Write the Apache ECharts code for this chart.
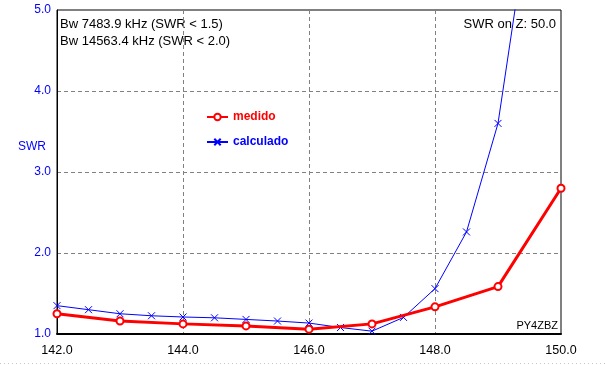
<!DOCTYPE html>
<html>
<head>
<meta charset="utf-8">
<script src="https://cdn.jsdelivr.net/npm/echarts@6/dist/echarts.min.js"></script>
<style>html,body{margin:0;padding:0;background:#fff}#c{width:605px;height:365px}</style>
</head>
<body>
<div id="c"></div>
<script>
var calcFreq = [142.0, 142.5, 143.0, 143.5, 144.0, 144.5, 145.0, 145.5, 146.0, 146.5, 147.0, 147.5, 148.0, 148.5, 149.0, 149.5];
var calcSwr  = [1.35, 1.30, 1.25, 1.225, 1.21, 1.20, 1.18, 1.16, 1.135, 1.08, 1.035, 1.205, 1.56, 2.26, 3.60, 6.2];
var medFreq = [142, 143, 144, 145, 146, 147, 148, 149, 150];
var medSwr  = [1.25, 1.16, 1.125, 1.10, 1.06, 1.125, 1.335, 1.585, 2.80];
var seriesNames = ['medido', 'calculado'];
var infoLines = ['Bw 7483.9 kHz (SWR < 1.5)', 'Bw 14563.4 kHz (SWR < 2.0)'];
var impedanceText = 'SWR on Z: 50.0';
var signature = 'PY4ZBZ';
var yName = 'SWR';

function pairs(xs, ys) { return xs.map(function (x, i) { return [x, ys[i]]; }); }
var FONT = '"Liberation Sans", Arial, sans-serif';
var chart = echarts.init(document.getElementById('c'), null, { renderer: 'canvas' });
chart.setOption({
  animation: false,
  backgroundColor: '#fff',
  grid: { left: 57, right: 44, top: 10, bottom: 31, show: true, borderColor: '#000', borderWidth: 1, backgroundColor: 'transparent' },
  xAxis: {
    type: 'value', min: 142, max: 150, interval: 2,
    axisLine: { show: true, onZero: false, lineStyle: { color: '#000', width: 2 } },
    axisTick: { show: false },
    axisLabel: { color: '#000', fontSize: 12.5, fontFamily: FONT, margin: 10, formatter: function (v) { return v.toFixed(1); } },
    splitLine: { show: true, lineStyle: { color: '#808080', type: [4, 3], width: 1 } }
  },
  yAxis: {
    type: 'value', min: 1, max: 5, interval: 1,
    axisLine: { show: true, onZero: false, lineStyle: { color: '#000', width: 1 } },
    axisTick: { show: false },
    axisLabel: { color: '#0000ff', fontSize: 12, fontFamily: FONT, margin: 6, formatter: function (v) { return v.toFixed(1); } },
    splitLine: { show: true, lineStyle: { color: '#808080', type: [4, 3], width: 1 } }
  },
  legend: {
    orient: 'vertical', left: 206, top: 111, padding: 0, itemWidth: 21, itemHeight: 8, itemGap: 13,
    data: [
      { name: seriesNames[0], textStyle: { color: '#ff0000', fontWeight: 'bold', fontSize: 12, fontFamily: FONT } },
      { name: seriesNames[1], textStyle: { color: '#0000ff', fontWeight: 'bold', fontSize: 12, fontFamily: FONT } }
    ]
  },
  series: [
    {
      name: seriesNames[1], type: 'line', z: 2, clip: true,
      data: pairs(calcFreq, calcSwr),
      symbol: 'path://M0,0L10,10M10,0L0,10', symbolSize: 7,
      lineStyle: { color: '#0000ff', width: 1 },
      itemStyle: { color: '#0000ff', borderColor: '#0000ff', borderWidth: 1 },
      emphasis: { disabled: true }
    },
    {
      name: seriesNames[0], type: 'line', z: 3, clip: true,
      data: pairs(medFreq, medSwr),
      symbol: 'emptyCircle', symbolSize: 7,
      lineStyle: { color: '#ff0000', width: 3 },
      itemStyle: { color: '#ff0000', borderColor: '#ff0000', borderWidth: 2 },
      emphasis: { disabled: true }
    }
  ],
  graphic: [
    { type: 'text', left: 60, top: 18, style: { text: infoLines[0], font: '13px ' + FONT, fill: '#000' } },
    { type: 'text', left: 60, top: 35, style: { text: infoLines[1], font: '13px ' + FONT, fill: '#000' } },
    { type: 'text', right: 49, top: 18, style: { text: impedanceText, font: '13px ' + FONT, fill: '#000' } },
    { type: 'text', right: 47, top: 320, style: { text: signature, font: '11px ' + FONT, fill: '#000' } },
    { type: 'text', left: 18, top: 141, style: { text: yName, font: '12px ' + FONT, fill: '#0000ff' } },
    { type: 'line', shape: { x1: 0, y1: 363.5, x2: 605, y2: 363.5 }, style: { stroke: '#c8c8c8', lineWidth: 1, lineDash: [1, 3] } }
  ]
});
</script>
</body>
</html>
